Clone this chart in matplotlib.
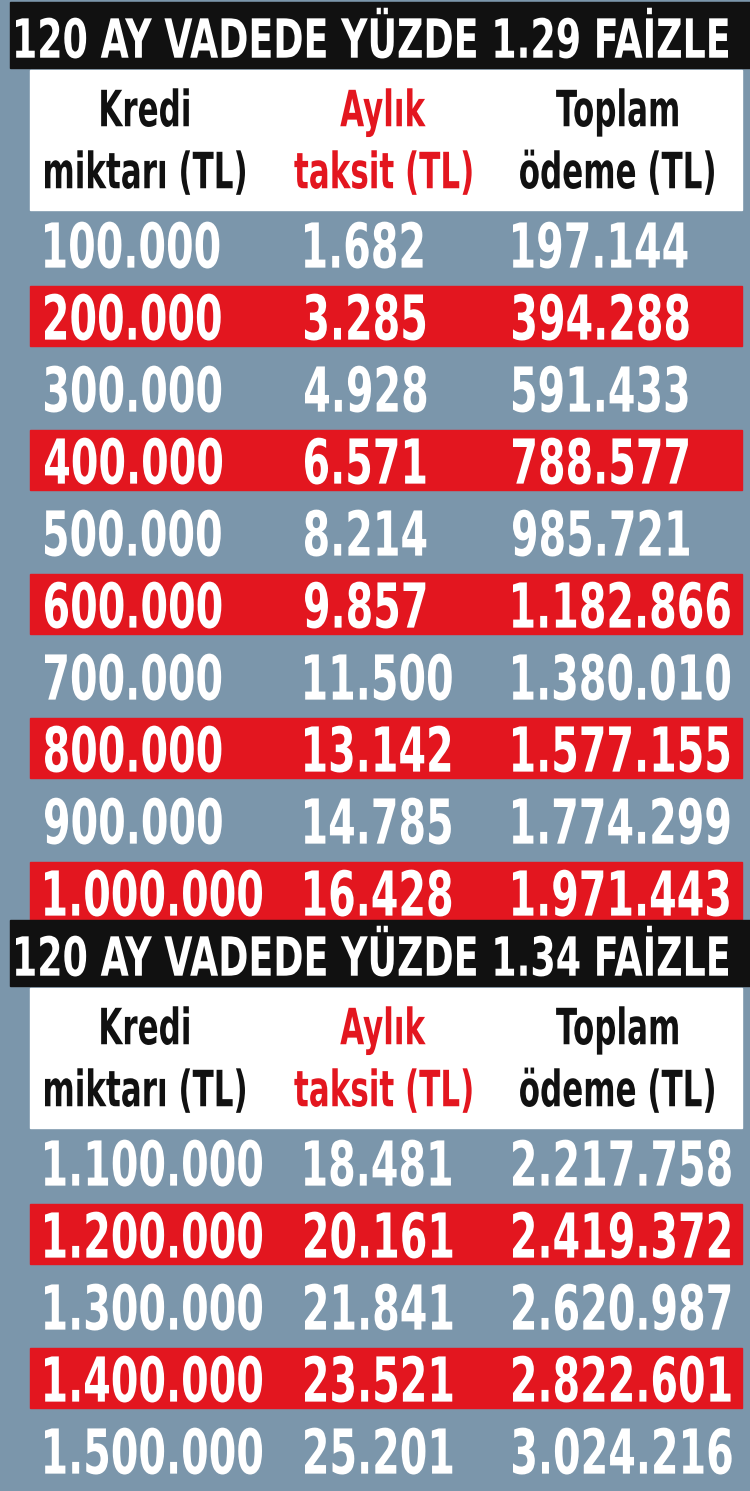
import matplotlib
matplotlib.use("Agg")
import matplotlib.pyplot as plt
from matplotlib.patches import Rectangle, PathPatch
from matplotlib.textpath import TextPath
from matplotlib.font_manager import FontProperties
from matplotlib.transforms import Affine2D

# table data
titles = ["120 AY VADEDE YÜZDE 1.29 FAİZLE", "120 AY VADEDE YÜZDE 1.34 FAİZLE"]
headers = [["Kredi", "miktarı (TL)"], ["Aylık", "taksit (TL)"], ["Toplam", "ödeme (TL)"]]

kredi1 = ["100.000", "200.000", "300.000", "400.000", "500.000",
          "600.000", "700.000", "800.000", "900.000", "1.000.000"]
taksit1 = ["1.682", "3.285", "4.928", "6.571", "8.214",
           "9.857", "11.500", "13.142", "14.785", "16.428"]
toplam1 = ["197.144", "394.288", "591.433", "788.577", "985.721",
           "1.182.866", "1.380.010", "1.577.155", "1.774.299", "1.971.443"]

kredi2 = ["1.100.000", "1.200.000", "1.300.000", "1.400.000", "1.500.000"]
taksit2 = ["18.481", "20.161", "21.841", "23.521", "25.201"]
toplam2 = ["2.217.758", "2.419.372", "2.620.987", "2.822.601", "3.024.216"]

BG = "#7b96ab"
RED = "#e3161f"
PROP = FontProperties(family="DejaVu Sans", weight="bold")

fig = plt.figure(figsize=(7.5, 14.91), dpi=100)
fig.patch.set_facecolor(BG)
ax = fig.add_axes([0, 0, 1, 1])
ax.set_xlim(0, 750)
ax.set_ylim(1491, 0)
ax.axis("off")


# condensed text drawn as a path (no narrow font installed)
def ctext(x, yc, s, size, color, ha="left", sx=0.66, width=None):
    tp = TextPath((0, 0), s, size=size, prop=PROP)
    ext = tp.get_extents()
    if width is not None:
        sx = width / ext.width
    w = ext.width * sx
    cap = 0.73 * size
    if ha == "center":
        x0 = x - w / 2 - ext.x0 * sx
    else:
        x0 = x - ext.x0 * sx
    tr = Affine2D().scale(sx, -1).translate(x0, yc + cap / 2)
    ax.add_patch(PathPatch(tr.transform_path(tp), color=color, lw=0))


col_x = [45, 305, 513]
head_x = [145, 383, 617]


def draw_block(top, title, kredi, taksit, toplam):
    ax.add_patch(Rectangle((10, top), 740, 66, color="#111111"))
    ctext(372, top + 36, title, 54, "white", ha="center", width=712)
    htop = top + 68
    ax.add_patch(Rectangle((30, htop), 712, 140, color="white"))
    for i, h in enumerate(headers):
        col = RED if i == 1 else "#111111"
        ctext(head_x[i], htop + 38, h[0], 50, col, ha="center", sx=0.62)
        ctext(head_x[i], htop + 100, h[1], 50, col, ha="center", sx=0.62)
    ystart = htop + 175
    for r in range(len(kredi)):
        yc = ystart + r * 72
        if r % 2 == 1:
            ax.add_patch(Rectangle((30, yc - 31), 712, 60, color=RED))
        for c, v in enumerate([kredi[r], taksit[r], toplam[r]]):
            ctext(col_x[c], yc, v, 62, "white", sx=0.64)


draw_block(2, titles[0], kredi1, taksit1, toplam1)
draw_block(920, titles[1], kredi2, taksit2, toplam2)

fig.savefig("out.png", dpi=100, facecolor=BG)
